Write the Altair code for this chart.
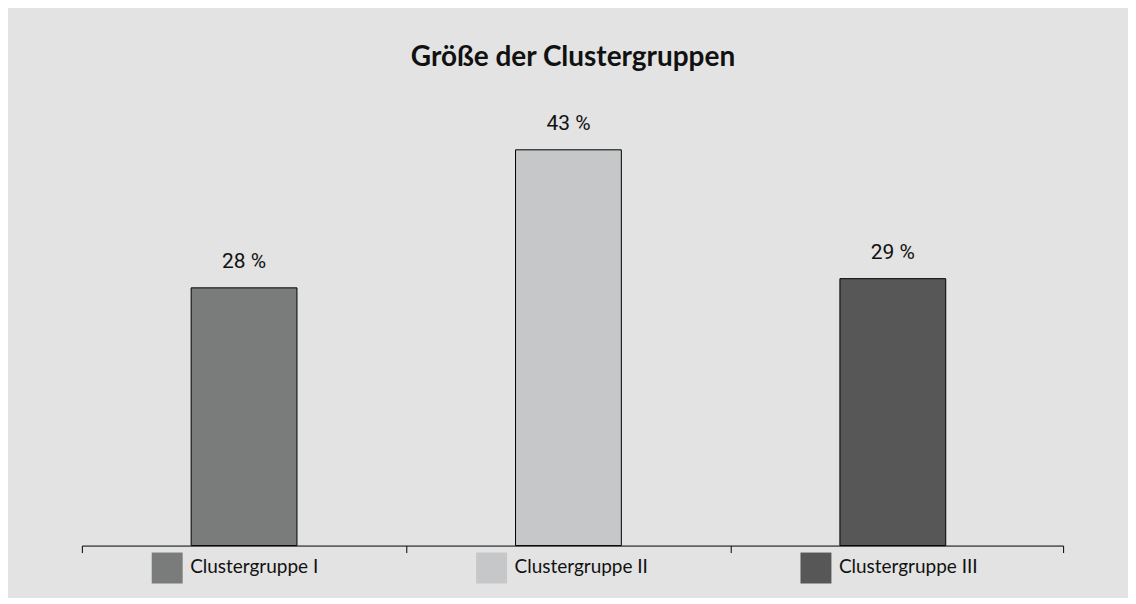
import altair as alt
import pandas as pd

categories = ["Clustergruppe I", "Clustergruppe II", "Clustergruppe III"]
positions = [0.5, 1.5, 2.5]
values = [28, 43, 29]
labels = ["28 %", "43 %", "29 %"]
colors = ["#7a7b7b", "#c6c7c8", "#575758"]
tick_values = [0, 1, 2, 3.025]
title_text = "Größe der Clustergruppen"

df = pd.DataFrame({"cat": categories, "pos": positions, "val": values, "lab": labels})

W, H = 983, 461
xscale = alt.Scale(domain=[0, 3.025], nice=False, zero=False, padding=0)
xenc = alt.X("pos:Q", scale=xscale,
             axis=alt.Axis(title=None, labels=False, values=tick_values, domainColor="black",
                           tickColor="black", tickSize=7, grid=False, domainWidth=1, tickWidth=1))
xplain = alt.X("pos:Q", scale=xscale)
yenc = alt.Y("val:Q", scale=alt.Scale(domain=[0, 50]), axis=None)
color = alt.Color("cat:N", scale=alt.Scale(domain=categories, range=colors), legend=None)

bars = alt.Chart(df).mark_bar(size=106, stroke="black", strokeWidth=1).encode(x=xenc, y=yenc, color=color)
vals = alt.Chart(df).mark_text(dy=-25.5, baseline="middle", font="Roboto", fontSize=21, color="#111").encode(
    x=xplain, y="val:Q", text="lab:N")
squares = alt.Chart(df).mark_square(size=961, xOffset=-77, opacity=1).encode(
    x=xplain, y=alt.value(H + 22.5), color=color)
legtext = alt.Chart(df).mark_text(dx=-54, align="left", baseline="middle", font="Lato", fontSize=19, color="#111").encode(
    x=xplain, y=alt.value(H + 21), text="cat:N")
title = alt.Chart(pd.DataFrame({"t": [title_text]})).mark_text(
    font="Lato", fontWeight="bold", fontSize=28, baseline="middle", align="center", color="#111").encode(
    x=alt.value(492), y=alt.value(-27), text="t:N")

chart = alt.layer(bars, vals, squares, legtext, title).properties(
    width=W, height=H, background="#e2e3e2",
    autosize=alt.AutoSizeParams(type="none"),
    padding={"left": 74, "top": 77, "right": 65, "bottom": 52},
).configure_view(stroke=None)

chart.save("out.html", embed_options={"renderer": "svg", "actions": False})
